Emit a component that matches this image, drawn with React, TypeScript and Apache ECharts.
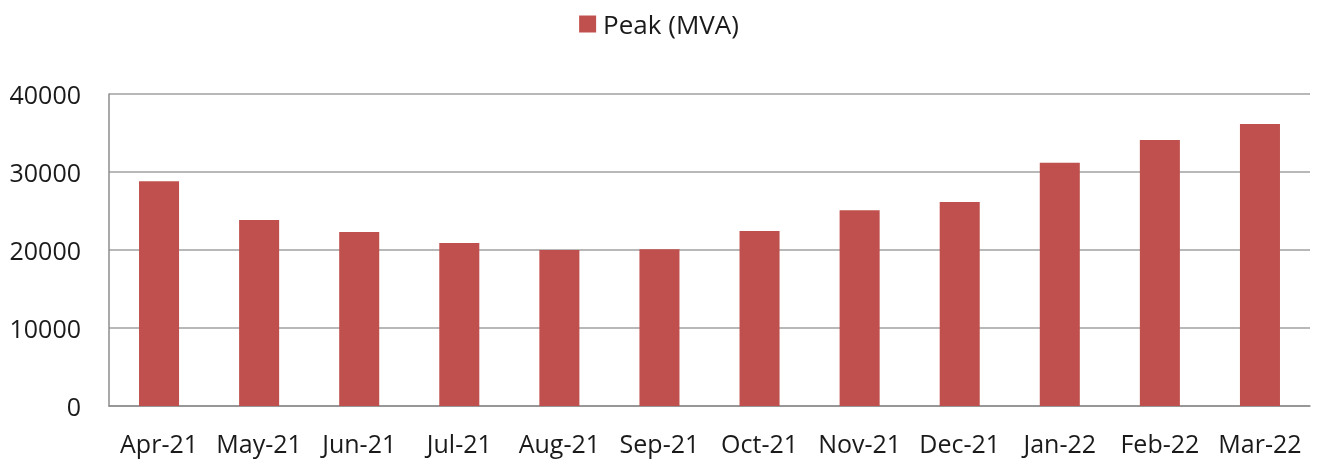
import React, { useEffect, useRef } from "react";
import * as echarts from "echarts";

const categories = ["Apr-21", "May-21", "Jun-21", "Jul-21", "Aug-21", "Sep-21", "Oct-21", "Nov-21", "Dec-21", "Jan-22", "Feb-22", "Mar-22"];
const peakValues = [28800, 23850, 22300, 20900, 20000, 20100, 22450, 25100, 26150, 31200, 34100, 36150];
const seriesName = "Peak (MVA)";

export default function App() {
  const ref = useRef<HTMLDivElement>(null);
  useEffect(() => {
    if (!ref.current) return;
    const chart = echarts.init(ref.current, null, { renderer: "svg" });
    const font = "'Open Sans', 'Liberation Sans', sans-serif";
    chart.setOption({
      animation: false,
      textStyle: { fontFamily: font },
      legend: {
        top: 6,
        left: "center",
        itemWidth: 17,
        itemHeight: 17,
        itemGap: 6,
        icon: "rect",
        textStyle: { fontSize: 26, color: "#1a1a1a", fontFamily: font, padding: [0, 0, 0, 2] },
        data: [seriesName],
      },
      grid: { left: 109, right: 8, top: 94, bottom: 55, containLabel: false },
      xAxis: {
        type: "category",
        data: categories,
        axisLine: { show: true, lineStyle: { color: "#8c8c8c", width: 1.5 } },
        axisTick: { show: false },
        axisLabel: { fontSize: 25, color: "#1a1a1a", margin: 24, fontFamily: font, interval: 0, hideOverlap: false },
      },
      yAxis: {
        type: "value",
        min: 0,
        max: 40000,
        interval: 10000,
        axisLine: { show: true, lineStyle: { color: "#8c8c8c", width: 1.5 } },
        axisTick: { show: false },
        splitLine: { show: true, lineStyle: { color: "#a0a0a0", width: 1.5 } },
        axisLabel: {
          fontSize: 25,
          color: "#1a1a1a",
          margin: 28,
          fontFamily: font,
          formatter: (v: number) => String(v),
        },
      },
      series: [
        {
          name: seriesName,
          type: "bar",
          data: peakValues,
          barWidth: "40%",
          itemStyle: { color: "#c0504d" },
        },
      ],
    });
    return () => chart.dispose();
  }, []);
  return <div ref={ref} style={{ position: "fixed", left: 0, top: 0, width: 1318, height: 461 }} />;
}
